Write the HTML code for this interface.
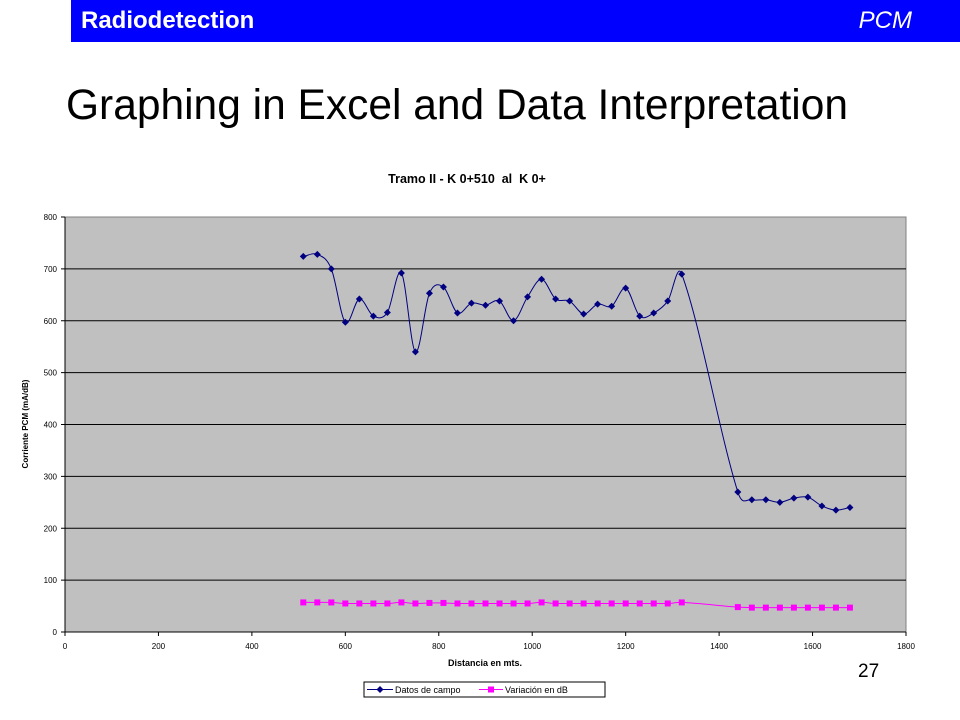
<!DOCTYPE html>
<html><head><meta charset="utf-8"><style>
body{margin:0;width:960px;height:720px;background:#fff;overflow:hidden;font-family:"Liberation Sans",sans-serif;position:relative}
#hdr{position:absolute;left:71px;top:0;width:889px;height:42px;background:#0000ff;color:#fff}
#hdr .l{position:absolute;left:10px;top:7px;font-size:24px;font-weight:bold}
#hdr .r{position:absolute;right:48px;top:7px;font-size:24px;font-style:italic}
#title{position:absolute;left:66px;top:82px;font-size:42.5px;color:#000;white-space:nowrap}
#pg{position:absolute;left:858px;top:661px;font-size:19px}
svg{position:absolute;left:0;top:0}
</style></head><body>
<div id="hdr"><span class="l">Radiodetection</span><span class="r">PCM</span></div>
<div id="title">Graphing in Excel and Data Interpretation</div>
<div id="pg">27</div>
<svg id="chart" width="960" height="720"></svg>
<script>
const xDatos=[510,540,570,600,630,660,690,720,750,780,810,840,870,900,930,960,990,1020,1050,1080,1110,1140,1170,1200,1230,1260,1290,1320,1440,1470,1500,1530,1560,1590,1620,1650,1680];
const datosCampo=[724,728,700,597,642,609,616,692,540,653,665,615,634,630,638,600,646,680,642,638,613,632,628,663,609,615,638,690,270,255,255,250,258,260,243,235,240];
const variacionDb=[57,57,57,55,55,55,55,57,55,56,56,55,55,55,55,55,55,57,55,55,55,55,55,55,55,55,55,57,48,47,47,47,47,47,47,47,47];
const xTicks=[0,200,400,600,800,1000,1200,1400,1600,1800];
const yTicks=[0,100,200,300,400,500,600,700,800];
const L=65,R=906,T=217,B=632;
const sx=v=>L+(v-0)/1800*(R-L), sy=v=>B-v/800*(B-T);
const svg=document.getElementById('chart');const NS='http://www.w3.org/2000/svg';
function mk(t,a,p){const e=document.createElementNS(NS,t);for(const k in a)e.setAttribute(k,a[k]);(p||svg).appendChild(e);return e;}
let e=mk('rect',{x:L,y:T,width:R-L,height:B-T,fill:'#c0c0c0',stroke:'#808080'});


e=mk('text',{x:467,y:183,'font-size':12.5,'font-weight':'bold','text-anchor':'middle','font-family':'Liberation Sans',style:'white-space:pre'});e.textContent='Tramo II - K 0+510  al  K 0+';


yTicks.forEach(v=>{const y=sy(v);
 if(v>0&&v<800){const g=mk('line',{x1:L,x2:R,y1:y,y2:y,stroke:'#000','stroke-width':1});}
 mk('line',{x1:L-4,x2:L,y1:y,y2:y,stroke:'#000'});
 const t=mk('text',{x:L-8,y:y+3,'font-size':8,'text-anchor':'end'});t.textContent=v;
 
 });
mk('line',{x1:L,x2:L,y1:T,y2:B,stroke:'#000'});mk('line',{x1:L,x2:R,y1:B,y2:B,stroke:'#000'});
xTicks.forEach(v=>{const x=sx(v);mk('line',{x1:x,x2:x,y1:B,y2:B+4,stroke:'#000'});
 const t=mk('text',{x:x,y:B+17,'font-size':8,'text-anchor':'middle'});t.textContent=v;
 
 });
e=mk('text',{x:485,y:666,'font-size':9,'font-weight':'bold','text-anchor':'middle'});e.textContent='Distancia en mts.';


e=mk('text',{x:0,y:0,'font-size':8,'font-weight':'bold','text-anchor':'middle',transform:'translate(28,424) rotate(-90)'});e.textContent='Corriente PCM (mA/dB)';


function smooth(pts){let d='M'+pts[0][0]+','+pts[0][1];for(let i=0;i<pts.length-1;i++){const p0=pts[i-1]||pts[i],p1=pts[i],p2=pts[i+1],p3=pts[i+2]||p2;
 const dx=p2[0]-p1[0];
 const s1=dx/(p2[0]-p0[0]||1)/3*2, s2=dx/(p3[0]-p1[0]||1)/3*2;
 const c1=[p1[0]+(p2[0]-p0[0])*s1/2,p1[1]+(p2[1]-p0[1])*s1/2];
 const c2=[p2[0]-(p3[0]-p1[0])*s2/2,p2[1]-(p3[1]-p1[1])*s2/2];
 d+=' C'+c1[0]+','+c1[1]+' '+c2[0]+','+c2[1]+' '+p2[0]+','+p2[1];}return d;}
const p1=xDatos.map((x,i)=>[sx(x),sy(datosCampo[i])]);
e=mk('path',{d:smooth(p1),fill:'none',stroke:'#000080','stroke-width':1});


p1.forEach(p=>{const m=mk('path',{d:`M${p[0]},${p[1]-3.5} l3.5,3.5 l-3.5,3.5 l-3.5,-3.5z`,fill:'#000080'});});
const p2=xDatos.map((x,i)=>[sx(x),sy(variacionDb[i])]);
e=mk('path',{d:smooth(p2),fill:'none',stroke:'#ff00ff','stroke-width':1});


p2.forEach(p=>{const m=mk('rect',{x:p[0]-3,y:p[1]-3,width:6,height:6,fill:'#ff00ff'});});
const lg=mk('g',{});
mk('rect',{x:364,y:682,width:241,height:15,fill:'#fff',stroke:'#000'},lg);
mk('line',{x1:367,x2:393,y1:689.5,y2:689.5,stroke:'#000080'},lg);
mk('path',{d:'M380,686 l3.5,3.5 l-3.5,3.5 l-3.5,-3.5z',fill:'#000080'},lg);
let t=mk('text',{x:395,y:693,'font-size':9},lg);t.textContent='Datos de campo';
mk('line',{x1:479,x2:503,y1:689.5,y2:689.5,stroke:'#ff00ff'},lg);
mk('rect',{x:488,y:686.5,width:6,height:6,fill:'#ff00ff'},lg);
t=mk('text',{x:505,y:693,'font-size':9},lg);t.textContent='Variación en dB';
</script>
</body></html>
